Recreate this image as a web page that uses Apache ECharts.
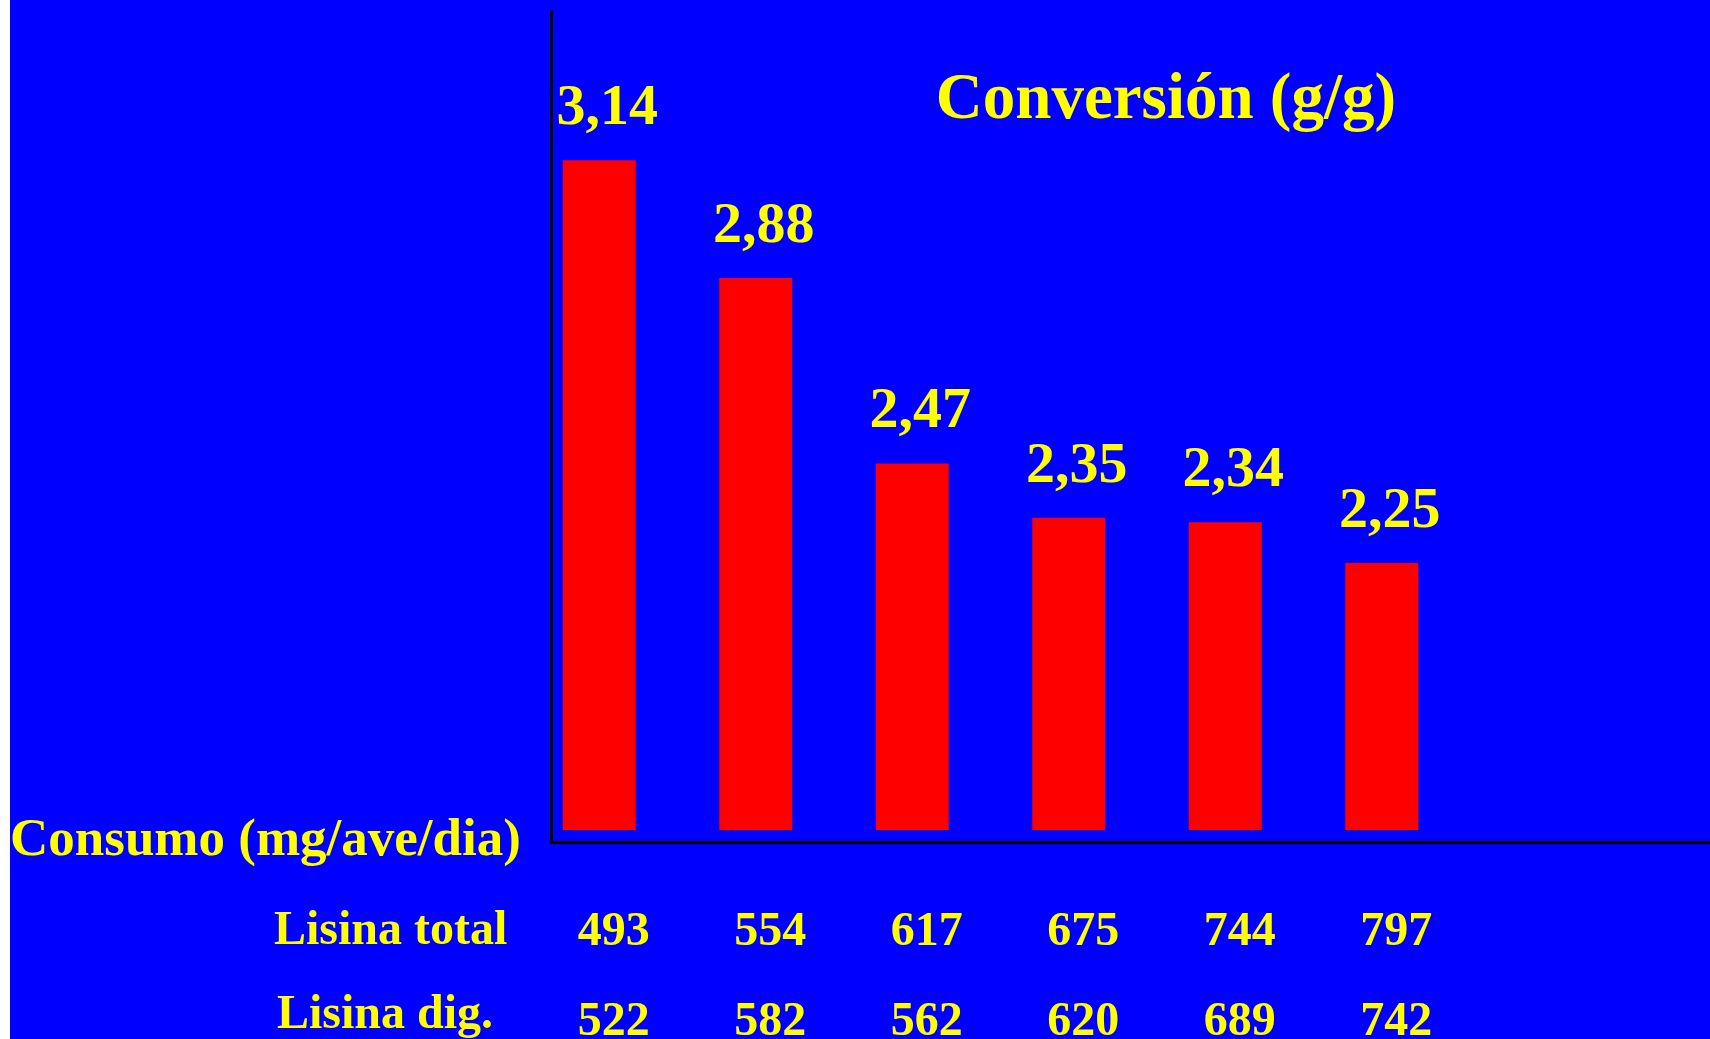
<!DOCTYPE html>
<html>
<head>
<meta charset="utf-8">
<title>Conversión (g/g)</title>
<script src="https://cdn.jsdelivr.net/npm/echarts@6/dist/echarts.min.js"></script>
<style>
  html, body { margin: 0; padding: 0; background: #ffffff; overflow: hidden; }
  #chart { position: absolute; left: 10px; top: 0; width: 1700px; height: 1039px; }
</style>
</head>
<body>
<div id="chart"></div>
<script>
// datos
const conversion = [3.14, 2.88, 2.47, 2.35, 2.34, 2.25];
const lisinaTotal = ['493', '554', '617', '675', '744', '797'];
const lisinaDig = ['522', '582', '562', '620', '689', '742'];
const rowLabels = ['Lisina total', 'Lisina dig.'];
const titleText = 'Conversión (g/g)';
const consumoText = 'Consumo (mg/ave/dia)';

const yellow = '#ffff00';
const font = '"Liberation Serif", "Times New Roman", serif';

const chart = echarts.init(document.getElementById('chart'));

const option = {
  backgroundColor: '#0000ff',
  animation: false,
  grid: [
    // barras
    { left: 511, right: 250, top: 11, bottom: 209, outerBoundsMode: 'none' },
    // solo los ejes en L
    { left: 541, right: 0, top: 11, bottom: 197, outerBoundsMode: 'none' }
  ],
  xAxis: [
    {
      type: 'category',
      gridIndex: 0,
      data: lisinaTotal.map((t, i) => t + '\n' + lisinaDig[i]),
      axisLine: { show: false },
      axisTick: { show: false },
      axisLabel: {
        margin: 58,
        padding: [0, 0, 0, 29],
        color: yellow,
        fontFamily: font,
        fontWeight: 'bold',
        fontSize: 48,
        lineHeight: 90
      }
    },
    {
      type: 'value',
      gridIndex: 1,
      axisLine: { show: true, lineStyle: { color: '#000', width: 3 } },
      axisTick: { show: false },
      axisLabel: { show: false },
      splitLine: { show: false }
    }
  ],
  yAxis: [
    {
      type: 'value',
      gridIndex: 0,
      min: 1.66,
      max: 3.47,
      show: false
    },
    {
      type: 'value',
      gridIndex: 1,
      axisLine: { show: true, lineStyle: { color: '#000', width: 3 } },
      axisTick: { show: false },
      axisLabel: { show: false },
      splitLine: { show: false }
    }
  ],
  series: [
    {
      type: 'bar',
      xAxisIndex: 0,
      yAxisIndex: 0,
      data: conversion,
      barWidth: 73,
      itemStyle: { color: '#ff0000' },
      label: {
        show: true,
        position: 'top',
        distance: 22,
        offset: [8, 0],
        color: yellow,
        fontFamily: font,
        fontWeight: 'bold',
        fontSize: 58,
        formatter: p => p.value.toFixed(2).replace('.', ',')
      }
    }
  ],
  graphic: [
    {
      type: 'text',
      x: 1156,
      y: 101,
      style: {
        text: titleText,
        fill: yellow,
        font: 'bold 65px ' + font,
        textAlign: 'center',
        textVerticalAlign: 'middle'
      }
    },
    {
      type: 'text',
      x: 0,
      y: 841,
      style: {
        text: consumoText,
        fill: yellow,
        font: 'bold 53px ' + font,
        textAlign: 'left',
        textVerticalAlign: 'middle'
      }
    },
    {
      type: 'text',
      x: 264,
      y: 932,
      style: {
        text: rowLabels[0],
        fill: yellow,
        font: 'bold 48px ' + font,
        textAlign: 'left',
        textVerticalAlign: 'middle'
      }
    },
    {
      type: 'text',
      x: 267,
      y: 1016,
      style: {
        text: rowLabels[1],
        fill: yellow,
        font: 'bold 48px ' + font,
        textAlign: 'left',
        textVerticalAlign: 'middle'
      }
    }
  ]
};

chart.setOption(option);
</script>
</body>
</html>
